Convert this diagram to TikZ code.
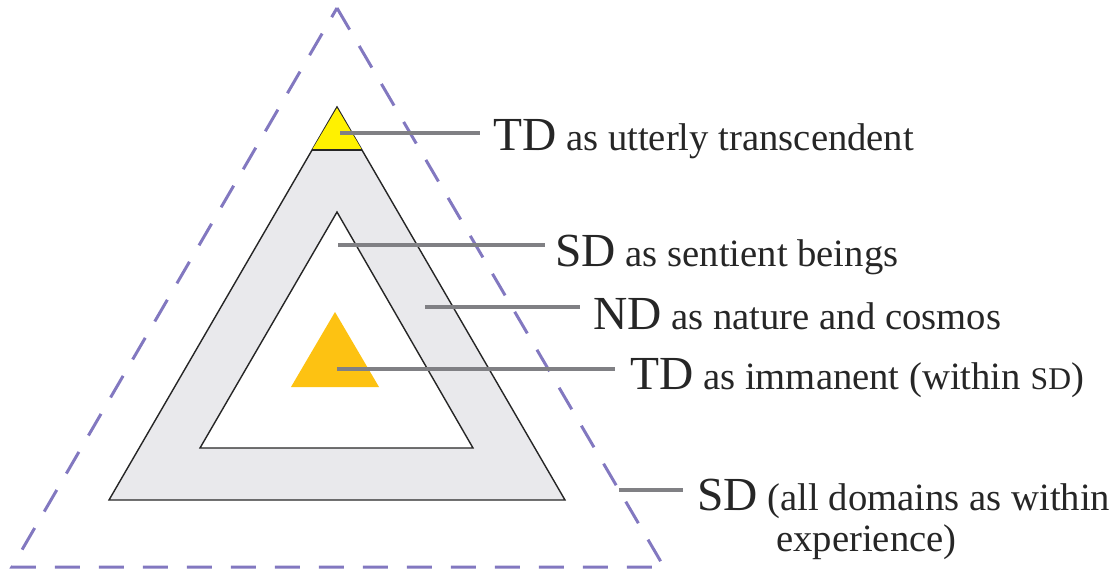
\documentclass[tikz,border=0pt]{standalone}
\usepackage{fontspec}
\setmainfont{Liberation Serif}
\definecolor{sdline}{RGB}{130,120,192}
\definecolor{leadgray}{RGB}{128,128,132}
\definecolor{ndfill}{RGB}{233,233,236}
\definecolor{tdtop}{RGB}{255,241,0}
\definecolor{tdin}{RGB}{253,194,18}
\newcommand{\dname}[1]{{\fontsize{27}{30}\selectfont #1}}
\tikzset{
  leader/.style={draw=leadgray, line width=2.3pt},
  lbl/.style={anchor=base west, inner sep=0pt, text=black!85,
    font=\fontsize{22}{26}\selectfont}
}
\begin{document}
\begin{tikzpicture}[x=0.02cm,y=-0.02cm]
\useasboundingbox (0,0) rectangle (1114,571);
% outer dashed triangle
\draw[sdline, line width=1.7pt, dash pattern=on 0.5cm off 0.38cm]
  (337,8) -- (664,567) -- (12,567) -- cycle;
% nested triangles
\filldraw[fill=ndfill, draw=black!85, line width=0.8pt] (337,107) -- (565,500) -- (109,500) -- cycle;
\filldraw[fill=white, draw=black!85, line width=0.8pt] (337,212) -- (473,448) -- (200,448) -- cycle;
\fill[tdin] (335,312) -- (379,387) -- (291,387) -- cycle;
\fill[tdtop] (337,108) -- (362,150) -- (312,150) -- cycle;
\draw[black!85, line width=1.4pt] (312,150) -- (362,150);
% where the leaders start
\coordinate (c1) at (340,133);
\coordinate (c2) at (338,245);
\coordinate (c3) at (425,307);
\coordinate (c4) at (337,369);
\coordinate (c5) at (619,490);
% labels
\node[lbl] (t1) at (493,150) {\dname{TD} as utterly transcendent};
\node[lbl] (t2) at (555,266) {\dname{SD} as sentient beings};
\node[lbl] (t3) at (593,329) {\dname{ND} as nature and cosmos};
\node[lbl] (t4) at (630,389) {\dname{TD} as immanent (within {\fontsize{18}{20}\selectfont SD})};
\node[lbl] (t5) at (697,510) {\dname{SD} (all domains as within};
\node[lbl] (t6) at (776,551) {experience)};
% leaders
\draw[leader] (c1) -- ([xshift=-13*0.02cm]c1 -| t1.west);
\draw[leader] (c2) -- ([xshift=-10*0.02cm]c2 -| t2.west);
\draw[leader] (c3) -- ([xshift=-13*0.02cm]c3 -| t3.west);
\draw[leader] (c4) -- ([xshift=-15*0.02cm]c4 -| t4.west);
\draw[leader] (c5) -- ([xshift=-14*0.02cm]c5 -| t5.west);
\end{tikzpicture}
\end{document}
